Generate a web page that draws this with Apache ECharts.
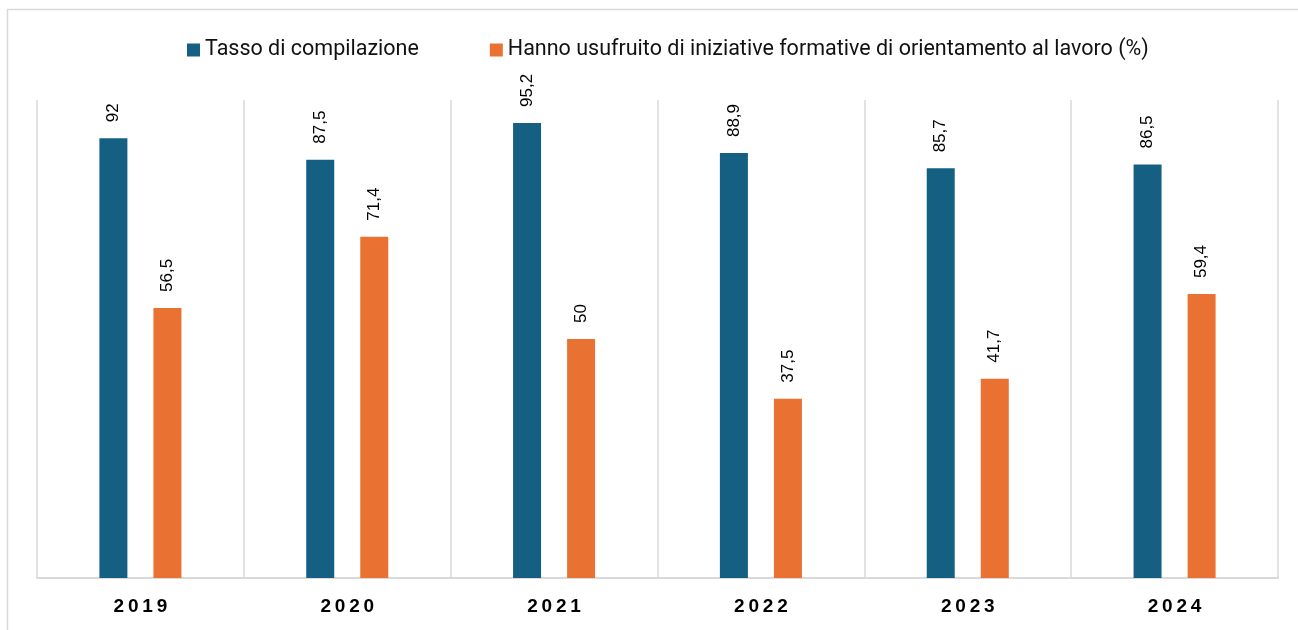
<!DOCTYPE html>
<html>
<head>
<meta charset="utf-8">
<script src="https://cdn.jsdelivr.net/npm/echarts@6/dist/echarts.min.js"></script>
<style>
  html, body { margin: 0; padding: 0; background: #fff; }
  #box { width: 1298px; height: 630px; }
</style>
</head>
<body>
<div id="box"></div>
<script>
// anni
var anni = ['2019', '2020', '2021', '2022', '2023', '2024'];
// tasso di compilazione
var tasso = [92, 87.5, 95.2, 88.9, 85.7, 86.5];
// iniziative formative (%)
var iniziative = [56.5, 71.4, 50, 37.5, 41.7, 59.4];

var nomeTasso = 'Tasso di compilazione';
var nomeIniz = 'Hanno usufruito di iniziative formative di orientamento al lavoro (%)';

function virgola(p) {
  return String(p.value).replace('.', ',');
}

var etichetta = {
  show: true,
  position: 'top',
  rotate: 90,
  align: 'left',
  verticalAlign: 'middle',
  distance: 16,
  fontFamily: 'Liberation Sans',
  fontSize: 17,
  color: '#000',
  formatter: virgola
};

var option = {
  animation: false,
  graphic: [{
    type: 'rect',
    shape: { x: 7.5, y: 9.5, width: 1400, height: 700 },
    style: { fill: 'none', stroke: '#d9d9d9', lineWidth: 1.5 },
    silent: true
  }],
  legend: {
    top: 34,
    left: 182,
    itemWidth: 13,
    itemHeight: 13,
    itemGap: 71,
    icon: 'rect',
    textStyle: { fontFamily: 'Roboto', fontSize: 21.5, color: '#111' },
    data: [nomeTasso, nomeIniz]
  },
  grid: { left: 37, right: 20, top: 100, bottom: 52 },
  xAxis: {
    type: 'category',
    data: anni,
    axisLine: { lineStyle: { color: '#d9d9d9', width: 2 } },
    axisTick: { show: false },
    splitLine: { show: true, interval: 0, lineStyle: { color: '#d9d9d9', width: 1.5 } },
    axisLabel: {
      margin: 19,
      fontFamily: 'Liberation Sans',
      fontSize: 19,
      fontWeight: 'bold',
      color: '#000',
      formatter: function (v) { return v.split('').join('\u2009'); }
    }
  },
  yAxis: {
    type: 'value',
    min: 0,
    max: 100,
    show: false,
    splitLine: { show: false }
  },
  series: [
    {
      name: nomeTasso,
      type: 'bar',
      data: tasso,
      barWidth: 28,
      barGap: '93%',
      itemStyle: { color: '#156082' },
      label: etichetta
    },
    {
      name: nomeIniz,
      type: 'bar',
      data: iniziative,
      barWidth: 28,
      itemStyle: { color: '#e97132' },
      label: etichetta
    }
  ]
};

var myChart = echarts.init(document.getElementById('box'));
myChart.setOption(option);
</script>
</body>
</html>
